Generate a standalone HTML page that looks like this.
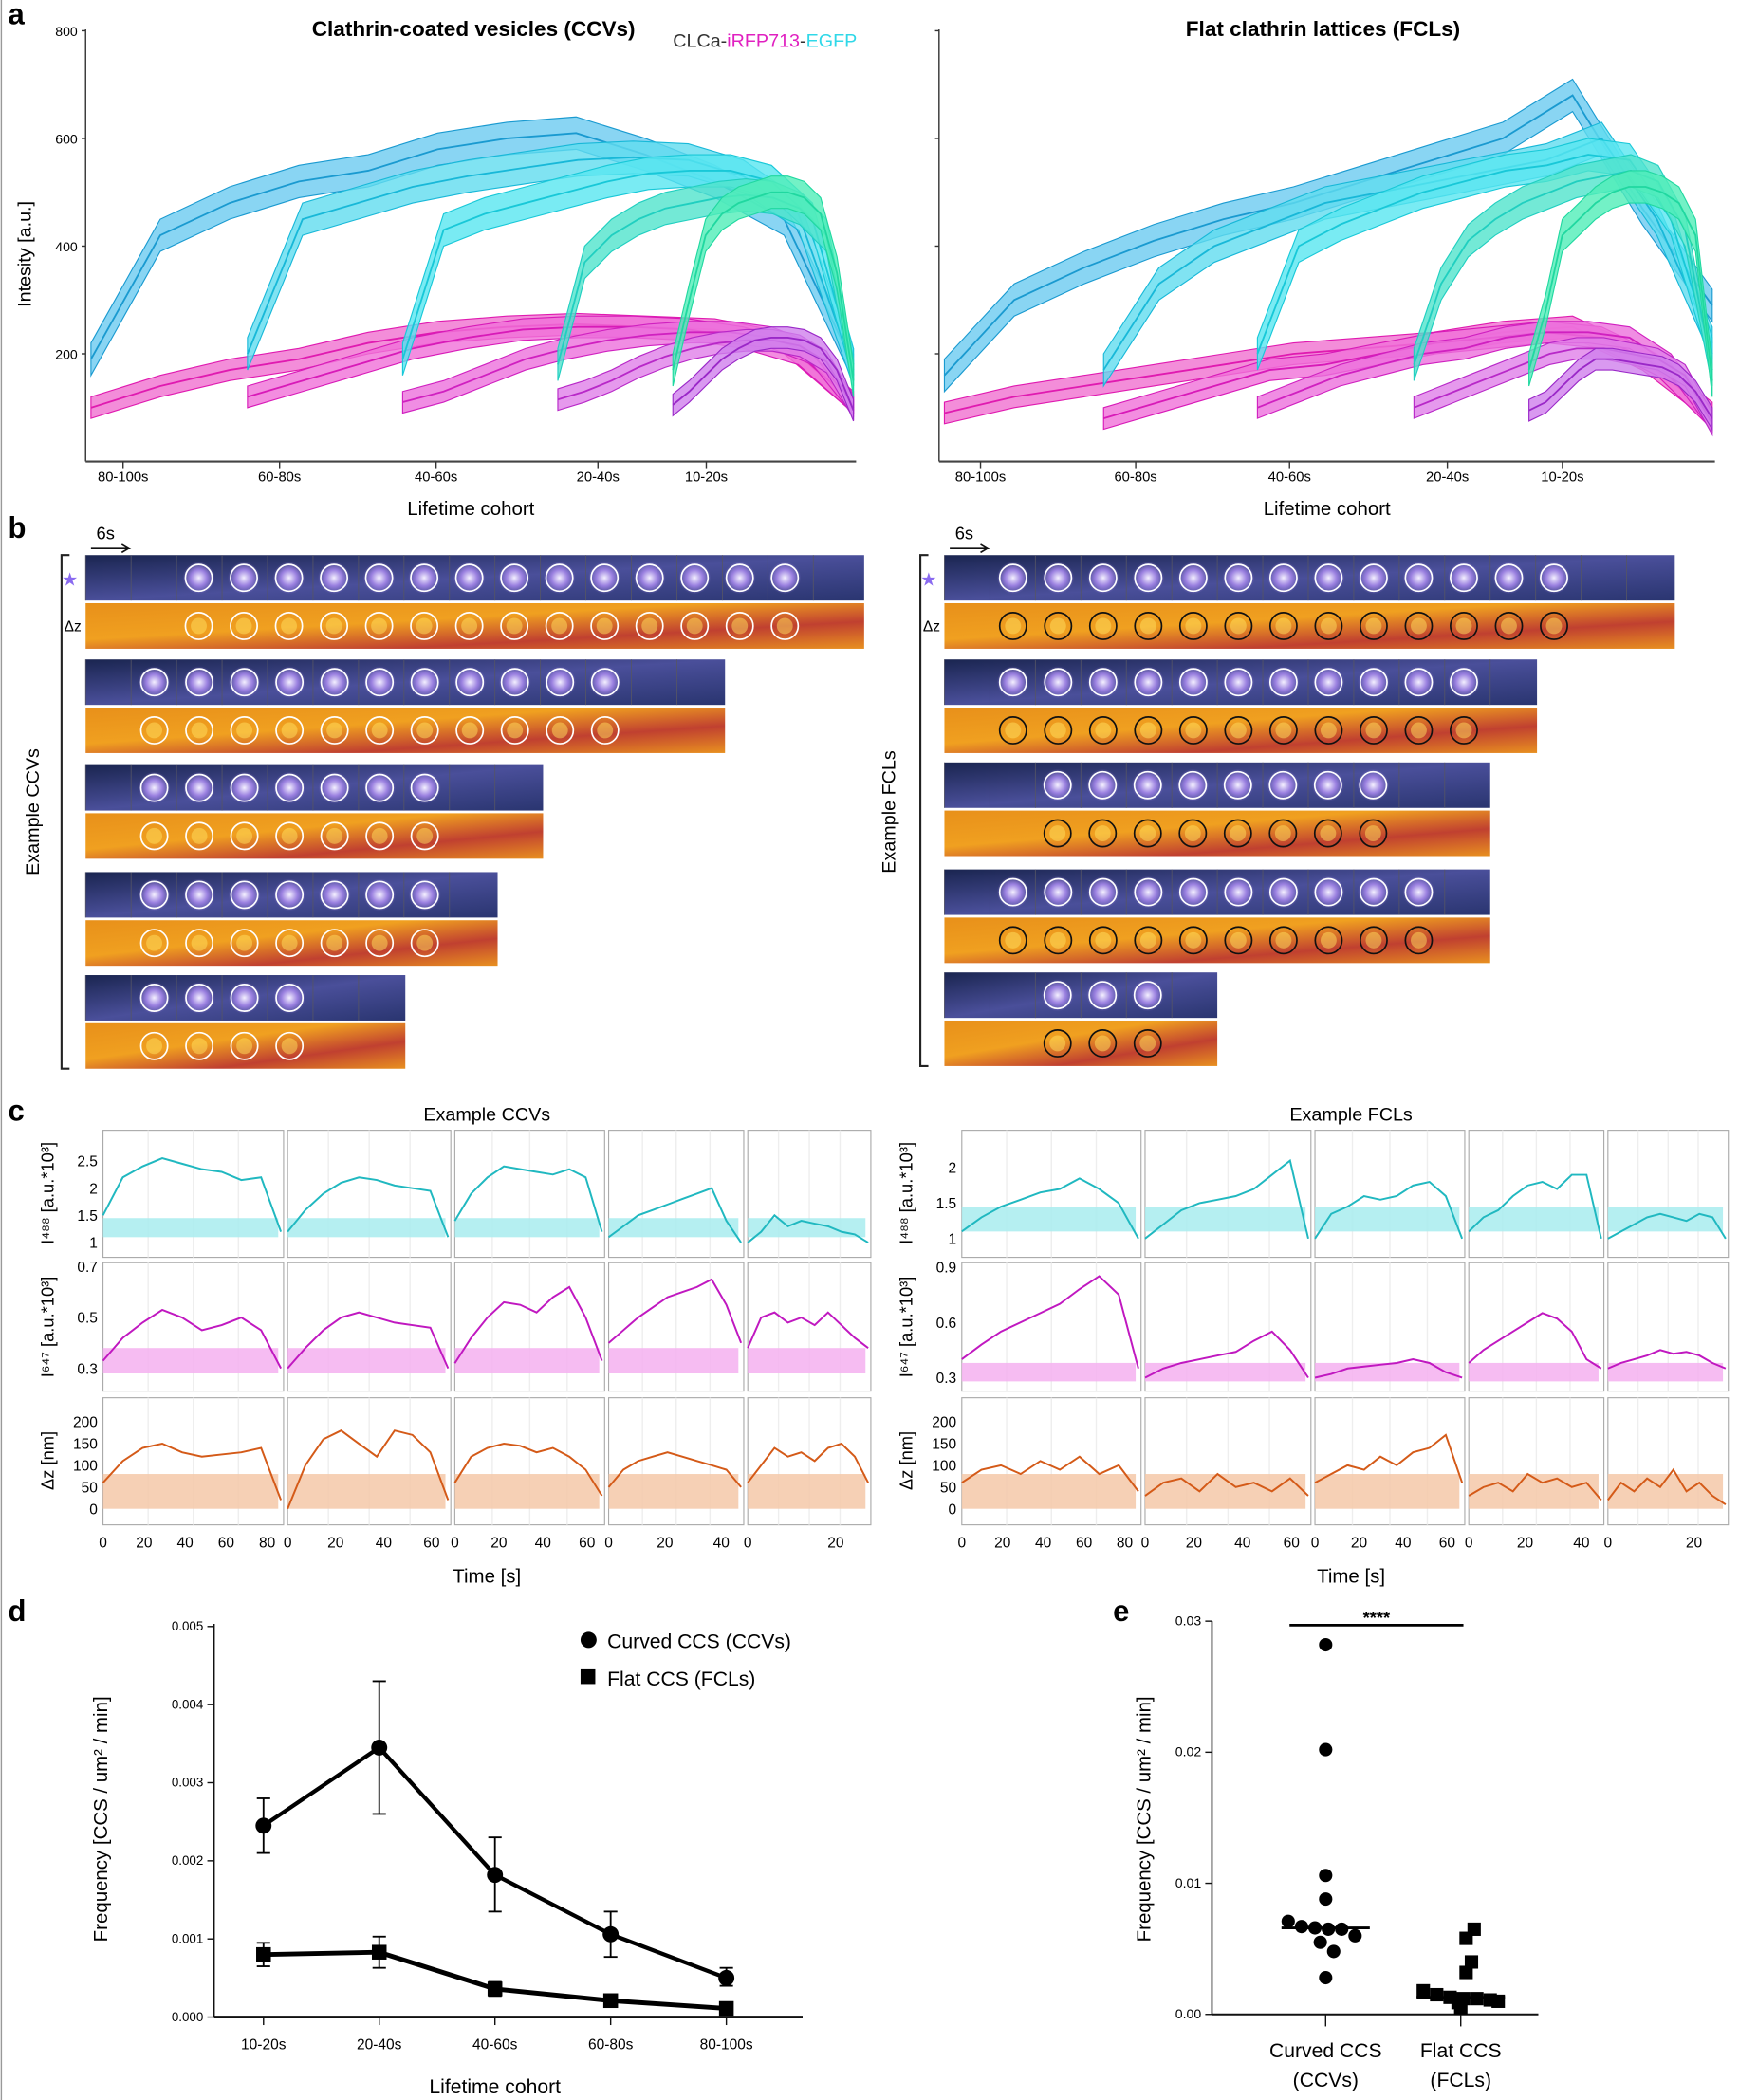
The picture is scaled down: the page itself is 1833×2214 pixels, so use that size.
<!DOCTYPE html>
<html><head><meta charset="utf-8"><style>
html,body{margin:0;padding:0;background:#fff;}
svg{display:block;font-family:"Liberation Sans",sans-serif;}
</style></head><body>
<svg id="fig" width="1833" height="2214" viewBox="0 0 1300 1570" preserveAspectRatio="none" xmlns="http://www.w3.org/2000/svg">
<defs>
<linearGradient id="gBlue" x1="0" x2="1" y1="0" y2="1"><stop offset="0" stop-color="#1a2550"/><stop offset="0.5" stop-color="#4a4f9a"/><stop offset="1" stop-color="#2a3570"/></linearGradient>
<linearGradient id="gOr" x1="0" x2="1" y1="0" y2="1"><stop offset="0" stop-color="#e8901a"/><stop offset="0.4" stop-color="#f0a020"/><stop offset="0.7" stop-color="#c04030"/><stop offset="1" stop-color="#e89020"/></linearGradient>
<radialGradient id="gSpot"><stop offset="0" stop-color="#f4f0ff"/><stop offset="0.5" stop-color="#9a80e0"/><stop offset="1" stop-color="#9a80e0" stop-opacity="0"/></radialGradient>
</defs>
<rect x="0" y="0" width="1300" height="1570" fill="#fff"/>
<line x1="1" y1="0" x2="1" y2="1570" stroke="#999" stroke-width="1"/>
<g id="pa"></g>
<g id="pb"></g>
<g id="pc"></g>
<g id="pd"></g>
<g id="pe"></g>
</svg>
<script>
// ---------- Panel a data ----------
const cohortLabels = ["80-100s","60-80s","40-60s","20-40s","10-20s"];
const yTicksA = [200,400,600,800];
const ccvEgfp = [
 [190,420,480,520,540,580,600,610,570,520,450,180],
 [200,450,480,510,530,545,560,565,560,530,460,170],
 [190,430,460,480,500,520,535,540,540,520,450,180],
 [180,370,420,450,470,480,490,495,490,470,420,160],
 [170,300,420,460,480,490,500,500,490,460,350,150]];
const ccvIrfp = [
 [100,140,170,190,220,240,250,255,250,245,220,110],
 [120,150,180,210,230,245,250,250,245,230,200,110],
 [110,130,160,190,210,225,235,240,240,230,200,105],
 [115,130,150,175,195,210,220,225,225,215,185,100],
 [105,130,160,190,210,225,230,230,225,210,170,95]];
const fclEgfp = [
 [160,300,360,410,450,480,520,560,600,680,470,290],
 [170,330,400,440,480,500,520,540,560,600,450,220],
 [200,400,440,470,500,520,540,550,570,560,450,200],
 [180,330,410,450,480,500,520,530,540,520,430,170],
 [170,280,420,450,480,500,510,510,500,480,420,150]];
const fclIrfp = [
 [90,120,140,160,180,200,210,220,240,250,190,90],
 [80,110,140,170,180,200,220,230,240,230,180,80],
 [100,130,160,180,200,210,230,240,240,230,180,75],
 [100,120,140,160,180,200,210,210,200,190,160,70],
 [95,110,140,170,190,190,185,180,175,160,130,80]];

// ---------- Panel c data ----------
const cL_r1 = [[1.5,2.2,2.4,2.55,2.45,2.35,2.3,2.15,2.2,1.2],[1.2,1.6,1.9,2.1,2.2,2.15,2.05,2.0,1.95,1.1],[1.4,1.9,2.2,2.4,2.35,2.3,2.25,2.35,2.2,1.2],[1.1,1.3,1.5,1.6,1.7,1.8,1.9,2.0,1.4,1.0],[1.0,1.2,1.5,1.3,1.4,1.35,1.3,1.2,1.15,1.0]];
const cL_r2 = [[0.33,0.42,0.48,0.53,0.5,0.45,0.47,0.5,0.45,0.3],[0.3,0.38,0.45,0.5,0.52,0.5,0.48,0.47,0.46,0.3],[0.32,0.42,0.5,0.56,0.55,0.52,0.58,0.62,0.5,0.33],[0.4,0.45,0.5,0.54,0.58,0.6,0.62,0.65,0.55,0.4],[0.38,0.5,0.52,0.48,0.5,0.47,0.52,0.47,0.42,0.38]];
const cL_r3 = [[60,110,140,150,130,120,125,130,140,20],[0,100,160,180,150,120,180,170,130,20],[60,120,140,150,145,130,140,120,90,30],[50,90,110,120,130,120,110,100,90,50],[60,100,140,120,130,110,140,150,120,60]];
const cR_r1 = [[1.1,1.3,1.45,1.55,1.65,1.7,1.85,1.7,1.5,1.0],[1.0,1.2,1.4,1.5,1.55,1.6,1.7,1.9,2.1,1.0],[1.0,1.35,1.45,1.6,1.55,1.6,1.75,1.8,1.6,1.0],[1.1,1.3,1.4,1.6,1.75,1.8,1.7,1.9,1.9,1.0],[1.0,1.1,1.2,1.3,1.35,1.3,1.25,1.35,1.3,1.0]];
const cR_r2 = [[0.4,0.48,0.55,0.6,0.65,0.7,0.78,0.85,0.75,0.35],[0.3,0.35,0.38,0.4,0.42,0.44,0.5,0.55,0.45,0.3],[0.3,0.32,0.35,0.36,0.37,0.38,0.4,0.38,0.33,0.3],[0.38,0.45,0.5,0.55,0.6,0.65,0.62,0.55,0.4,0.35],[0.35,0.38,0.4,0.42,0.45,0.43,0.44,0.42,0.38,0.35]];
const cR_r3 = [[60,90,100,80,110,90,120,80,100,40],[30,60,70,40,80,50,60,40,70,30],[60,80,100,90,120,100,130,140,170,60],[30,50,60,40,80,60,70,50,60,20],[20,60,40,70,50,90,40,60,30,10]];
const cL_xt = [["0","20","40","60","80"],["0","20","40","60"],["0","20","40","60"],["0","20","40"],["0","20"]];
const cR_xt = [["0","20","40","60","80"],["0","20","40","60"],["0","20","40","60"],["0","20","40"],["0","20"]];

// ---------- Panel d data ----------
const dCats = ["10-20s","20-40s","40-60s","60-80s","80-100s"];
const dCcv = [0.00245,0.00345,0.00182,0.00106,0.0005];
const dCcvHi = [0.0028,0.0043,0.0023,0.00135,0.00063];
const dCcvLo = [0.0021,0.0026,0.00135,0.00077,0.0004];
const dFcl = [0.0008,0.00083,0.00036,0.00021,0.00011];
const dFclErr = [0.00015,0.0002,0.00009,0.00005,0.00006];
const dTicks = ["0.000","0.001","0.002","0.003","0.004","0.005"];
// ---------- Panel e data ----------
const eCcv = [0.0282,0.0202,0.0106,0.0088,0.0071,0.0067,0.0066,0.0065,0.0065,0.006,0.0055,0.0048,0.0028];
const eFcl = [0.0065,0.0058,0.004,0.0032,0.0018,0.0015,0.0013,0.0012,0.0012,0.0011,0.001,0.0009,0.0005];
const eMed = [0.0066,0.0013];
const eTicks = ["0.00","0.01","0.02","0.03"];

const NS="http://www.w3.org/2000/svg";
function el(parent,tag,attrs,txt){const e=document.createElementNS(NS,tag);for(const k in attrs)e.setAttribute(k,attrs[k]);if(txt!==undefined)e.textContent=txt;parent.appendChild(e);return e;}

// ===== Panel a =====
const pa=document.getElementById('pa');
let t=el(pa,'text',{x:6,y:18,'font-size':22,'font-weight':'bold'},'a');

function drawA(x0,x1,starts,eg,ir,title,showY,egCols,irCols){
  const yS=v=>486-(v/200)*112;
  const g=el(pa,'g',{});
  el(g,'line',{x1:x0,y1:22,x2:x0,y2:487,stroke:'#333','stroke-width':1});
  el(g,'line',{x1:x0,y1:487,x2:x1,y2:487,stroke:'#333','stroke-width':1.5});
  yTicksA.forEach(v=>{el(g,'line',{x1:x0-3,y1:yS(v),x2:x0,y2:yS(v),stroke:'#333'});
    if(showY){const tt=el(g,'text',{x:x0-6,y:yS(v)+4,'font-size':11,'text-anchor':'end'},v);}});
  const end=x1-2;
  for(let c=0;c<5;c++){
    const xs=starts[c];
    const px=i=>xs+(end-xs)*i/(eg[c].length-1);
    [[ir[c],irCols[c],22],[eg[c],egCols[c],32]].forEach(([arr,col,w])=>{
      let up=arr.map((v,i)=>px(i)+','+yS(v+w)).join(' ');
      let dn=arr.map((v,i)=>px(i)+','+yS(v-w)).reverse().join(' ');
      const band=el(g,'polygon',{points:up+' '+dn,fill:col[1],'fill-opacity':0.75,stroke:col[0],'stroke-width':0.8});
      
      const ln=el(g,'polyline',{points:arr.map((v,i)=>px(i)+','+yS(v)).join(' '),fill:'none',stroke:col[0],'stroke-width':1.3});
      
    });
    const tx=xs+(c===0?24:c===4?25:24);
    el(g,'line',{x1:tx,y1:487,x2:tx,y2:492,stroke:'#333'});
    const tl=el(g,'text',{x:tx,y:360*1+0,'font-size':11,'text-anchor':'middle'},cohortLabels[c]);
    tl.setAttribute('y',360);
    
  }
  const xt=el(g,'text',{x:(x0+x1)/2,y:385,'font-size':15,'text-anchor':'middle'},'Lifetime cohort');
  
  const ti=el(g,'text',{x:x0+(x1-x0)*0.5-60,y:27,'font-size':16,'font-weight':'bold','text-anchor':'middle'},title);
  
  return {g,ti};
}
// fix tick label y (axis at 487 display is wrong; actual axis at 345)
</script>
<script>
// Redo panel a using correct display coordinates (axis bottom at y=345)
(function(){
const pa=document.getElementById('pa');
const yS=v=>345-(v/200)*80.5; // 800->23, 200->264
const egColsL=[['#1a9ad0','#6ccaf0'],['#18b8d8','#60dcef'],['#18c8d8','#58e6f0'],['#20cfc0','#50e4cc'],['#20d8a0','#50eeb8']];
const irColsL=[['#e01ab0','#f070d0'],['#d81ab8','#f070d8'],['#d020c0','#ec70dc'],['#b828c8','#e080e8'],['#9a28c8','#d080ec']];
function draw(x0,x1,starts,eg,ir,title,tx){
  const g=el(pa,'g',{});
  
  el(g,'line',{x1:x0,y1:22,x2:x0,y2:345,stroke:'#333','stroke-width':1});
  el(g,'line',{x1:x0,y1:345,x2:x1,y2:345,stroke:'#444','stroke-width':1.5});
  yTicksA.forEach(v=>{el(g,'line',{x1:x0-3,y1:yS(v),x2:x0,y2:yS(v),stroke:'#333'});
    const tt=el(g,'text',{x:x0-6,y:yS(v)+4,'font-size':10,'text-anchor':'end'},x0<100?v:'');
    });
  const end=x1-2;
  for(let c=0;c<5;c++){
    const xs=starts[c];
    const px=i=>xs+(end-xs)*i/(eg[c].length-1);
    [[ir[c],irColsL[c],20],[eg[c],egColsL[c],30]].forEach(([arr,col,w])=>{
      const up=arr.map((v,i)=>px(i).toFixed(1)+','+yS(v+w).toFixed(1)).join(' ');
      const dn=arr.map((v,i)=>px(i).toFixed(1)+','+yS(v-w).toFixed(1)).reverse().join(' ');
      const band=el(g,'polygon',{points:up+' '+dn,fill:col[1],'fill-opacity':0.8,stroke:col[0],'stroke-width':0.8});
      
      const ln=el(g,'polyline',{points:arr.map((v,i)=>px(i).toFixed(1)+','+yS(v).toFixed(1)).join(' '),fill:'none',stroke:col[0],'stroke-width':1.3});
      
    });
    el(g,'line',{x1:tx[c],y1:345,x2:tx[c],y2:350,stroke:'#333'});
    const tl=el(g,'text',{x:tx[c],y:360,'font-size':10.5,'text-anchor':'middle'},cohortLabels[c]);
    
  }
  const xt=el(g,'text',{x:(x0+x1)/2,y:385,'font-size':14.5,'text-anchor':'middle'},'Lifetime cohort');
  
  const ti=el(g,'text',{x:tx[1]+(title[0]=='C'?145:140),y:27,'font-size':16,'font-weight':'bold','text-anchor':'middle'},title);
  
}
draw(64,640,[68,185,301,417,503],ccvEgfp,ccvIrfp,'Clathrin-coated vesicles (CCVs)',[92,209,326,447,528]);
draw(702,1282,[706,825,940,1057,1143],fclEgfp,fclIrfp,'Flat clathrin lattices (FCLs)',[733,849,964,1082,1168]);
const yt=el(pa,'text',{x:23,y:190,'font-size':14,'text-anchor':'middle',transform:'rotate(-90 23 190)'},'Intesity [a.u.]');

const lg=el(pa,'text',{x:503,y:35,'font-size':14},'');

el(lg,'tspan',{fill:'#333'},'CLCa-');el(lg,'tspan',{fill:'#e020c0'},'iRFP713');el(lg,'tspan',{fill:'#333'},'-');el(lg,'tspan',{fill:'#30d8e8'},'EGFP');
})();

// ===== Panel b =====
(function(){
const pb=document.getElementById('pb');
const lb=el(pb,'text',{x:6,y:402,'font-size':22,'font-weight':'bold'},'b');

function block(x0,rows,nCircL,label,lblX,circDark){
  rows.forEach((r,ri)=>{
    const [yT,w,n,startC]=r;
    const g=el(pb,'g',{});
    
    el(g,'rect',{x:x0,y:yT,width:w,height:34,fill:'url(#gBlue)'});
    el(g,'rect',{x:x0,y:yT+36,width:w,height:34,fill:'url(#gOr)'});
    for(let k=0;k<n;k++){
      const cx=x0+18+startC*33.3+k*33.7;
      el(g,'circle',{cx:cx,cy:yT+17,r:12,fill:'url(#gSpot)'});
      const c1=el(g,'circle',{cx:cx,cy:yT+17,r:10,fill:'none',stroke:'#fff','stroke-width':1.2});
      
      el(g,'circle',{cx:cx,cy:yT+53,r:6,fill:'#ffe060','fill-opacity':0.5});
      el(g,'circle',{cx:cx,cy:yT+53,r:10,fill:'none',stroke:circDark?'#111':'#fff','stroke-width':1.2});
    }
    for(let k=0;k<Math.floor(w/34);k++) el(g,'line',{x1:x0+k*34,y1:yT,x2:x0+k*34,y2:yT+34,stroke:'#556','stroke-width':0.6});
  });
  el(pb,'path',{d:`M${x0-12} ${rows[0][0]} h-6 V${rows[rows.length-1][0]+70} h6`,fill:'none',stroke:'#222','stroke-width':1.5});
  el(pb,'text',{x:x0-18,y:438,'font-size':14,fill:'#8a6af0'},'★');
  el(pb,'text',{x:x0-16,y:472,'font-size':11},'Δz');
  el(pb,'text',{x:x0+8,y:403,'font-size':13},'6s');
  el(pb,'path',{d:`M${x0+4} 410 h28 l-5 -3 m5 3 l-5 3`,fill:'none',stroke:'#111','stroke-width':1.2});
  const yl=el(pb,'text',{x:lblX,y:607,'font-size':14,'text-anchor':'middle',transform:`rotate(-90 ${lblX} 607)`},label);
  
}
block(64,[[415,582,14,2],[493,478,11,1],[572,342,7,1],[652,308,7,1],[729,239,4,1]],0,'Example CCVs',29,false);
block(706,[[415,546,13,1],[493,443,11,1],[570,408,8,2],[650,408,10,1],[727,204,3,2]],0,'Example FCLs',669,true);
})();

// ===== Panel c =====
(function(){
const pc=document.getElementById('pc');
const lb=el(pc,'text',{x:6,y:838,'font-size':22,'font-weight':'bold'},'c');

const rowsY=[[845,940],[944,1040],[1045,1140]];
function side(cols,r1,r2,r3,sc1,sc2,sc3,ticks,xt,title,cx){
  const tt=el(pc,'text',{x:cx,y:838,'font-size':14,'text-anchor':'middle'},title);
  
  const data=[r1,r2,r3], scs=[sc1,sc2,sc3];
  const colors=[['#20b8c0','#a8ecee'],['#c018c0','#f4b0f0'],['#d45a18','#f4c8a8']];
  const bg=[[1.1,1.45],[0.28,0.38],[0,80]];
  cols.forEach((c,ci)=>{
    for(let r=0;r<3;r++){
      const [y0,y1]=rowsY[r];const s=scs[r];
      const g=el(pc,'g',{});
      
      el(g,'rect',{x:c[0],y:y0,width:c[1]-c[0],height:y1-y0,fill:'#fff',stroke:'#aaa','stroke-width':0.8});
      for(let k=1;k<4;k++) el(g,'line',{x1:c[0]+(c[1]-c[0])*k/4,y1:y0,x2:c[0]+(c[1]-c[0])*k/4,y2:y1,stroke:'#eee'});
      const arr=data[r][ci];const px=i=>c[0]+(c[1]-c[0]-2)*i/(arr.length-1);
      const b=bg[r];
      el(g,'rect',{x:c[0],y:s(b[1]),width:c[1]-c[0]-4,height:s(b[0])-s(b[1]),fill:colors[r][1],'fill-opacity':0.85});
      const ln=el(g,'polyline',{points:arr.map((v,i)=>px(i).toFixed(1)+','+s(v).toFixed(1)).join(' '),fill:'none',stroke:colors[r][0],'stroke-width':1.4});
      
    }
    xt[ci].forEach((l,k)=>{const x=c[0]+k*(c[1]-c[0])/ (xt[ci].length-0.6);
      const tl=el(pc,'text',{x:x,y:1157,'font-size':11,'text-anchor':'middle'},l);
      });
  });
  ticks.forEach((tk,r)=>tk.forEach(v=>{const tl=el(pc,'text',{x:cols[0][0]-4,y:scs[r](v)+4,'font-size':11,'text-anchor':'end'},v);
    }));
  const ax=cols[0][0]-37;
  [['I⁴⁸⁸ [a.u.*10³]',892],['I⁶⁴⁷ [a.u.*10³]',992],['Δz [nm]',1092]].forEach(([l,y])=>{
    const yl=el(pc,'text',{x:ax,y:y,'font-size':13,'text-anchor':'middle',transform:`rotate(-90 ${ax} ${y})`},l);
    });
  const xl=el(pc,'text',{x:cx,y:1183,'font-size':14.5,'text-anchor':'middle'},'Time [s]');
  
}
side([[77,212],[215,337],[340,452],[455,556],[559,651]],cL_r1,cL_r2,cL_r3,
  v=>929-(v-1)*40.7, v=>1023-(v-0.3)*190, v=>1128-v*0.325,
  [[1,1.5,2,2.5],[0.3,0.5,0.7],[0,50,100,150,200]],cL_xt,'Example CCVs',364);
side([[719,853],[856,980],[983,1095],[1098,1199],[1202,1292]],cR_r1,cR_r2,cR_r3,
  v=>926-(v-1)*53, v=>1030-(v-0.3)*138, v=>1128-v*0.325,
  [[1,1.5,2],[0.3,0.6,0.9],[0,50,100,150,200]],cR_xt,'Example FCLs',1010);
})();

// ===== Panel d =====
(function(){
const pd=document.getElementById('pd');
const lb=el(pd,'text',{x:6,y:1212,'font-size':22,'font-weight':'bold'},'d');

const y=v=>1508-v/0.005*292, x=i=>197+i*86.5;
el(pd,'line',{x1:160,y1:1214,x2:160,y2:1508,stroke:'#111','stroke-width':1.2});
el(pd,'line',{x1:160,y1:1508,x2:600,y2:1508,stroke:'#111','stroke-width':2});
dTicks.forEach((l,i)=>{const v=i*0.001;el(pd,'line',{x1:155,y1:y(v),x2:160,y2:y(v),stroke:'#111'});
  const tl=el(pd,'text',{x:152,y:y(v)+3,'font-size':9.5,'text-anchor':'end'},l);});
dCats.forEach((c,i)=>{el(pd,'line',{x1:x(i),y1:1508,x2:x(i),y2:1514,stroke:'#111'});
  const tl=el(pd,'text',{x:x(i),y:1532,'font-size':11,'text-anchor':'middle'},c);});
const l1=el(pd,'polyline',{points:dCcv.map((v,i)=>x(i)+','+y(v)).join(' '),fill:'none',stroke:'#000','stroke-width':3});

const l2=el(pd,'polyline',{points:dFcl.map((v,i)=>x(i)+','+y(v)).join(' '),fill:'none',stroke:'#000','stroke-width':3.5});

dCcv.forEach((v,i)=>{el(pd,'line',{x1:x(i),y1:y(dCcvHi[i]),x2:x(i),y2:y(dCcvLo[i]),stroke:'#000','stroke-width':1.3});
  [dCcvHi[i],dCcvLo[i]].forEach(e=>el(pd,'line',{x1:x(i)-5,y1:y(e),x2:x(i)+5,y2:y(e),stroke:'#000','stroke-width':1.3}));
  const m=el(pd,'circle',{cx:x(i),cy:y(v),r:6,fill:'#000'});});
dFcl.forEach((v,i)=>{const hi=v+dFclErr[i],lo=v-dFclErr[i];
  el(pd,'line',{x1:x(i),y1:y(hi),x2:x(i),y2:y(lo),stroke:'#000','stroke-width':1.3});
  [hi,lo].forEach(e=>el(pd,'line',{x1:x(i)-5,y1:y(e),x2:x(i)+5,y2:y(e),stroke:'#000','stroke-width':1.3}));
  const m=el(pd,'rect',{x:x(i)-5.5,y:y(v)-5.5,width:11,height:11,fill:'#000'});});
const lg=el(pd,'g',{});
el(lg,'circle',{cx:440,cy:1226,r:6,fill:'#000'});el(lg,'text',{x:454,y:1232,'font-size':15},'Curved CCS (CCVs)');
el(lg,'rect',{x:434,y:1248,width:11,height:11,fill:'#000'});el(lg,'text',{x:454,y:1260,'font-size':15},'Flat CCS (FCLs)');
const yl=el(pd,'text',{x:80,y:1360,'font-size':14.5,'text-anchor':'middle',transform:'rotate(-90 80 1360)'},'Frequency [CCS / um² / min]');

const xl=el(pd,'text',{x:370,y:1565,'font-size':15,'text-anchor':'middle'},'Lifetime cohort');

})();

// ===== Panel e =====
(function(){
const pe=document.getElementById('pe');
const lb=el(pe,'text',{x:832,y:1212,'font-size':22,'font-weight':'bold'},'e');

const y=v=>1506-v/0.03*294, xc=[991,1092];
el(pe,'line',{x1:906,y1:1212,x2:906,y2:1506,stroke:'#111','stroke-width':1.2});
el(pe,'line',{x1:906,y1:1506,x2:1150,y2:1506,stroke:'#111','stroke-width':1.5});
eTicks.forEach((l,i)=>{const v=i*0.01;el(pe,'line',{x1:901,y1:y(v),x2:906,y2:y(v),stroke:'#111'});
  const tl=el(pe,'text',{x:898,y:y(v)+3,'font-size':10,'text-anchor':'end'},l);});
xc.forEach(x=>el(pe,'line',{x1:x,y1:1506,x2:x,y2:1515,stroke:'#111'}));
const offs=[0,0,0,0,-28,-18,-8,2,12,22,-4,6,0];
eCcv.forEach((v,i)=>{const m=el(pe,'circle',{cx:xc[0]+offs[i],cy:y(v),r:5,fill:'#000'});});
const offs2=[10,4,8,4,-28,-18,-8,2,12,22,28,-2,0];
eFcl.forEach((v,i)=>{const m=el(pe,'rect',{x:xc[1]+offs2[i]-5,y:y(v)-5,width:10,height:10,fill:'#000'});});
eMed.forEach((v,i)=>{const m=el(pe,'line',{x1:xc[i]-33,y1:y(v),x2:xc[i]+33,y2:y(v),stroke:'#000','stroke-width':2});});
el(pe,'line',{x1:964,y1:1215,x2:1094,y2:1215,stroke:'#000','stroke-width':2});
const st=el(pe,'text',{x:1029,y:1214,'font-size':13,'font-weight':'bold','text-anchor':'middle'},'****');

[['Curved CCS',991,1538],['(CCVs)',991,1560],['Flat CCS',1092,1538],['(FCLs)',1092,1560]].forEach(([l,x,yy])=>{
  const tl=el(pe,'text',{x:x,y:yy,'font-size':15,'text-anchor':'middle'},l);});
const yl=el(pe,'text',{x:860,y:1360,'font-size':14.5,'text-anchor':'middle',transform:'rotate(-90 860 1360)'},'Frequency [CCS / um² / min]');

})();
</script>
</body></html>
